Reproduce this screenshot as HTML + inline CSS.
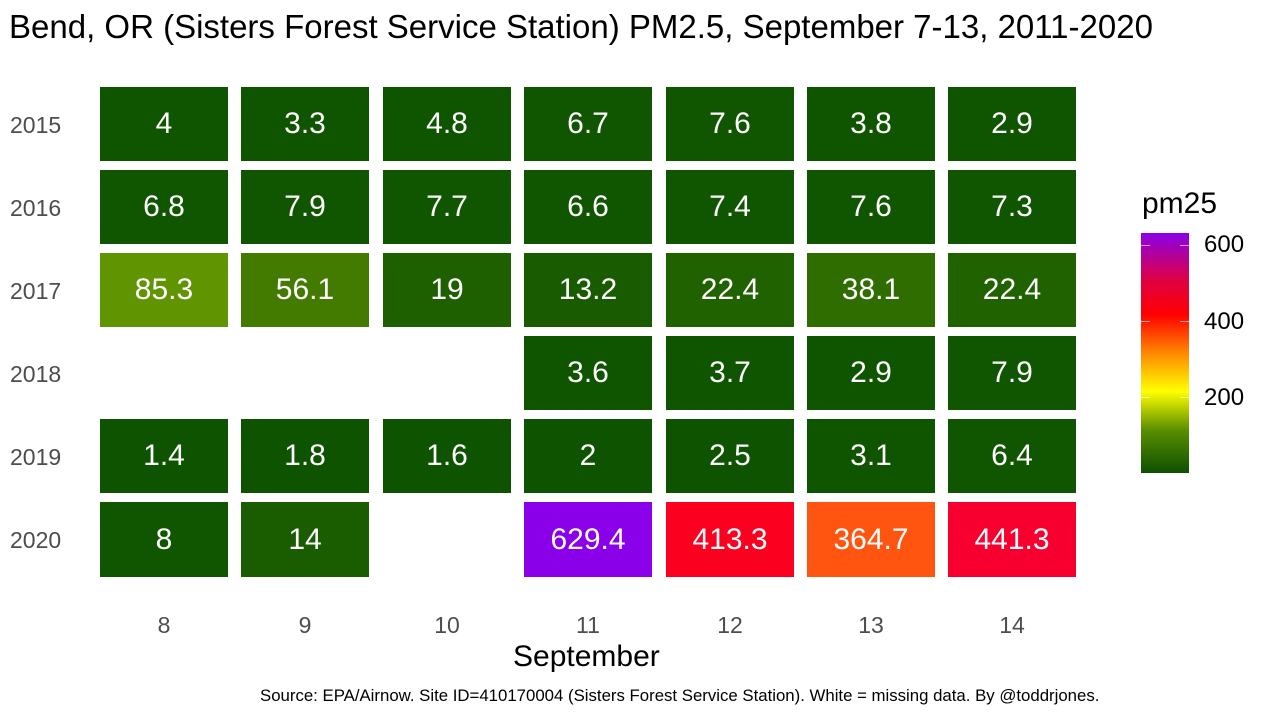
<!DOCTYPE html>
<html><head><style>
body{margin:0;width:1272px;height:720px;background:#fff;font-family:"Liberation Sans",sans-serif;position:relative;overflow:hidden}
.t{position:absolute;white-space:nowrap}
.c{position:absolute;width:128px;height:74px;color:#fff;font-size:30px;display:flex;align-items:center;justify-content:center}
.y{position:absolute;left:10px;font-size:23px;color:#4d4d4d}
.x{position:absolute;top:612px;font-size:23px;color:#4d4d4d;width:128px;text-align:center}
.tk{position:absolute;width:9px;height:1px;background:rgba(255,255,255,.6)}
</style></head><body>
<div class="t" style="left:9px;top:8px;font-size:33px;color:#000">Bend, OR (Sisters Forest Service Station) PM2.5, September 7-13, 2011-2020</div>
<div class="y" style="top:112px">2015</div>
<div class="y" style="top:195px">2016</div>
<div class="y" style="top:278px">2017</div>
<div class="y" style="top:361px">2018</div>
<div class="y" style="top:444px">2019</div>
<div class="y" style="top:527px">2020</div>
<div class="x" style="left:100px">8</div><div class="x" style="left:241px">9</div><div class="x" style="left:383px">10</div><div class="x" style="left:524px">11</div><div class="x" style="left:666px">12</div><div class="x" style="left:807px">13</div><div class="x" style="left:948px">14</div>
<div class="t" style="left:513px;top:640px;font-size:30px;color:#000">September</div>
<div class="t" style="left:260px;top:686px;font-size:16.8px;color:#000">Source: EPA/Airnow. Site ID=410170004 (Sisters Forest Service Station). White = missing data. By @toddrjones.</div>

<div class="c" style="left:100px;top:87px;background:#0f5500">4</div>
<div class="c" style="left:241px;top:87px;background:#0f5500">3.3</div>
<div class="c" style="left:383px;top:87px;background:#0f5500">4.8</div>
<div class="c" style="left:524px;top:87px;background:#105600">6.7</div>
<div class="c" style="left:666px;top:87px;background:#105600">7.6</div>
<div class="c" style="left:807px;top:87px;background:#0f5500">3.8</div>
<div class="c" style="left:948px;top:87px;background:#0f5500">2.9</div>

<div class="c" style="left:100px;top:170px;background:#105600">6.8</div>
<div class="c" style="left:241px;top:170px;background:#105600">7.9</div>
<div class="c" style="left:383px;top:170px;background:#105600">7.7</div>
<div class="c" style="left:524px;top:170px;background:#105600">6.6</div>
<div class="c" style="left:666px;top:170px;background:#105600">7.4</div>
<div class="c" style="left:807px;top:170px;background:#105600">7.6</div>
<div class="c" style="left:948px;top:170px;background:#105600">7.3</div>

<div class="c" style="left:100px;top:253px;background:#609400">85.3</div>
<div class="c" style="left:241px;top:253px;background:#437b00">56.1</div>
<div class="c" style="left:383px;top:253px;background:#1e5f00">19</div>
<div class="c" style="left:524px;top:253px;background:#195b00">13.2</div>
<div class="c" style="left:666px;top:253px;background:#216200">22.4</div>
<div class="c" style="left:807px;top:253px;background:#2f6d00">38.1</div>
<div class="c" style="left:948px;top:253px;background:#216200">22.4</div>

<div class="c" style="left:524px;top:336px;background:#0f5500">3.6</div>
<div class="c" style="left:666px;top:336px;background:#0f5500">3.7</div>
<div class="c" style="left:807px;top:336px;background:#0f5500">2.9</div>
<div class="c" style="left:948px;top:336px;background:#105600">7.9</div>

<div class="c" style="left:100px;top:419px;background:#0e5400">1.4</div>
<div class="c" style="left:241px;top:419px;background:#0e5400">1.8</div>
<div class="c" style="left:383px;top:419px;background:#0e5400">1.6</div>
<div class="c" style="left:524px;top:419px;background:#0e5400">2</div>
<div class="c" style="left:666px;top:419px;background:#0e5400">2.5</div>
<div class="c" style="left:807px;top:419px;background:#0f5500">3.1</div>
<div class="c" style="left:948px;top:419px;background:#105600">6.4</div>

<div class="c" style="left:100px;top:502px;height:75px;background:#105600">8</div>
<div class="c" style="left:241px;top:502px;height:75px;background:#1a5c00">14</div>
<div class="c" style="left:524px;top:502px;height:75px;background:#8a00e8">629.4</div>
<div class="c" style="left:666px;top:502px;height:75px;background:#fc0020">413.3</div>
<div class="c" style="left:807px;top:502px;height:75px;background:#ff5510">364.7</div>
<div class="c" style="left:948px;top:502px;height:75px;background:#f70030">441.3</div>

<div class="t" style="left:1142px;top:187px;font-size:30px;color:#000">pm25</div>
<div style="position:absolute;left:1141px;top:233px;width:48px;height:240px;background:linear-gradient(to top,#0d5000 0%,#5a8f00 18%,#ffff00 34%,#ff8800 50%,#ff0000 66%,#e00040 80%,#8a00e8 100%)"></div>
<div class="tk" style="left:1141px;top:245px"></div><div class="tk" style="left:1180px;top:245px"></div>
<div class="tk" style="left:1141px;top:321px"></div><div class="tk" style="left:1180px;top:321px"></div>
<div class="tk" style="left:1141px;top:397px"></div><div class="tk" style="left:1180px;top:397px"></div>
<div class="t" style="left:1204px;top:231px;font-size:24px;color:#000">600</div>
<div class="t" style="left:1204px;top:308px;font-size:24px;color:#000">400</div>
<div class="t" style="left:1204px;top:384px;font-size:24px;color:#000">200</div>
</body></html>
